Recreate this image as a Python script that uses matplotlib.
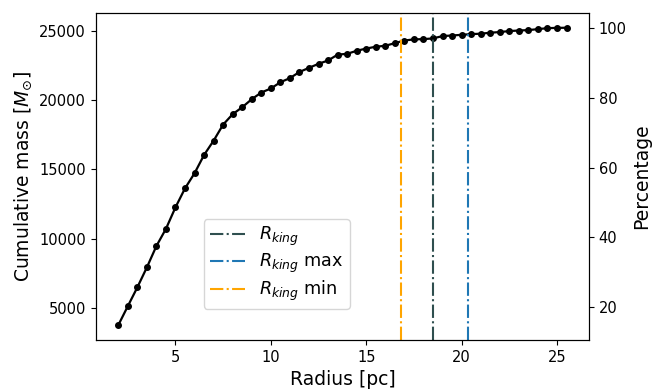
import numpy as np
import matplotlib
matplotlib.use("Agg")
import matplotlib.pyplot as plt

# cumulative mass profile
radius = [2.0, 2.5, 3.0, 3.5, 4.0, 4.5, 5.0, 5.5, 6.0, 6.5, 7.0, 7.5, 8.0, 8.5,
          9.0, 9.5, 10.0, 10.5, 11.0, 11.5, 12.0, 12.5, 13.0, 13.5, 14.0, 14.5,
          15.0, 15.5, 16.0, 16.5, 17.0, 17.5, 18.0, 18.5, 19.0, 19.5, 20.0, 20.5,
          21.0, 21.5, 22.0, 22.5, 23.0, 23.5, 24.0, 24.5, 25.0, 25.5]
cum_mass = [3750, 5120, 6480, 7920, 9460, 10700, 12250, 13620, 14710, 16030,
            17060, 18220, 18970, 19470, 20050, 20530, 20820, 21270, 21570, 22010,
            22310, 22600, 22840, 23260, 23320, 23540, 23700, 23830, 23900, 24090,
            24280, 24360, 24380, 24430, 24600, 24640, 24690, 24740, 24770, 24840,
            24890, 24960, 25000, 25030, 25100, 25170, 25190, 25200]

r_king = 18.48
r_king_max = 20.33
r_king_min = 16.83

fig = plt.figure(figsize=(6.61, 3.9), dpi=100)
ax = fig.add_axes([0.145, 0.128, 0.746, 0.839])
ax.plot(radius, cum_mass, "o-", color="black", lw=1.6, ms=4)
ax.axvline(r_king, color="darkslategray", ls="-.", lw=1.5, label=r"$R_{king}$")
ax.axvline(r_king_max, color="tab:blue", ls="-.", lw=1.5, label=r"$R_{king}$ max")
ax.axvline(r_king_min, color="orange", ls="-.", lw=1.5, label=r"$R_{king}$ min")
ax.set_xlabel("Radius [pc]", fontsize=13.5)
ax.set_ylabel(r"Cumulative mass [$M_{\odot}$]", fontsize=13.5)
ax.tick_params(labelsize=10.5)
ax.legend(loc="lower left", bbox_to_anchor=(0.219, 0.095), borderaxespad=0,
          fontsize=12.7, labelspacing=0.2, borderpad=0.35)

# percentage axis
ax2 = ax.twinx()
pct = np.array(cum_mass) / cum_mass[-1] * 100
ax2.plot(radius, pct, alpha=0)
ax2.set_ylabel("Percentage", fontsize=13.5)
ax2.tick_params(labelsize=10.5)

fig.savefig("out.png", dpi=100)
